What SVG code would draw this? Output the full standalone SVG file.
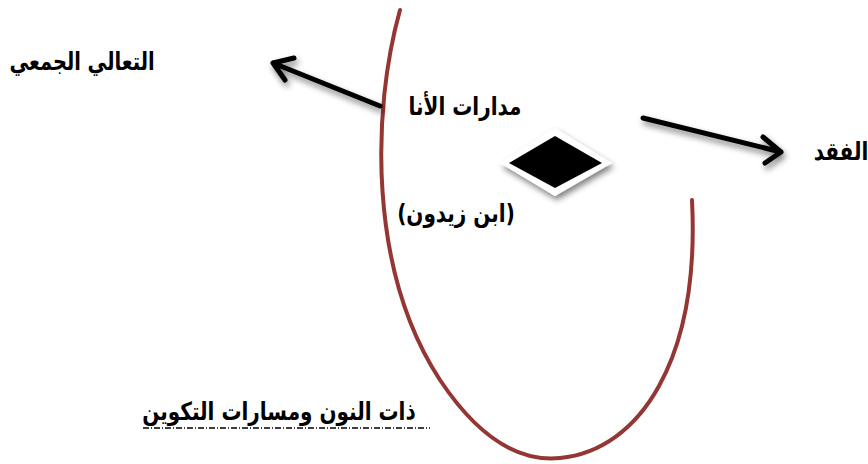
<svg xmlns="http://www.w3.org/2000/svg" width="868" height="464" viewBox="0 0 868 464">
<defs>
<style>
.t{font-family:"DejaVu Sans","Noto Sans",sans-serif;font-weight:bold;font-size:20px;fill:#000;text-anchor:middle;direction:rtl}
.arr{stroke:#000;stroke-width:5;fill:none;stroke-linecap:round;stroke-linejoin:round}
</style>
<filter id="sh" x="-30%" y="-30%" width="160%" height="160%">
<feGaussianBlur in="SourceAlpha" stdDeviation="3"/>
<feOffset dx="2" dy="4" result="b"/>
<feComponentTransfer><feFuncA type="linear" slope="0.5"/></feComponentTransfer>
<feMerge><feMergeNode/><feMergeNode in="SourceGraphic"/></feMerge>
</filter>
</defs>
<rect width="868" height="464" fill="#fff"/>
<g id="curve">
<path d="M400,10 C372,110 368,270 440,380 C480,440 520,462 560,458 C640,450 700,360 692,200" fill="none" stroke="#943634" stroke-width="4" stroke-linecap="round"/>
</g>
<g id="connectors" filter="url(#sh)">
<path class="arr" d="M380,106 L273,63 M273,63 L294,58 M273,63 L285,80"/>
<path class="arr" d="M643,118 L781,152 M781,152 L763,137 M781,152 L765,163"/>
</g>
<g id="diamond" filter="url(#sh)">
<polygon points="555,128 612,163 555,196 500,163" fill="#fff"/>
<polygon points="555,136 602,163 555,188 509,163" fill="#000"/>
</g>
<g id="n1"><text class="t" transform="translate(82,70) scale(0.97,1.25)">التعالي الجمعي</text></g>
<g id="n2"><text class="t" transform="translate(465,115) scale(1,1.25)">مدارات الأنا</text></g>
<g id="n3"><text class="t" transform="translate(456,222) scale(1,1.25)">(ابن زيدون)</text></g>
<g id="n4"><text class="t" transform="translate(841,160) scale(1,1.25)">الفقد</text></g>
<g id="n5"><text class="t" transform="translate(279,420) scale(1,1.25)">ذات النون ومسارات التكوين</text>
<line x1="143" y1="428" x2="430" y2="428" stroke="#000" stroke-width="1.5" stroke-dasharray="6,2,1,2"/></g>
</svg>
